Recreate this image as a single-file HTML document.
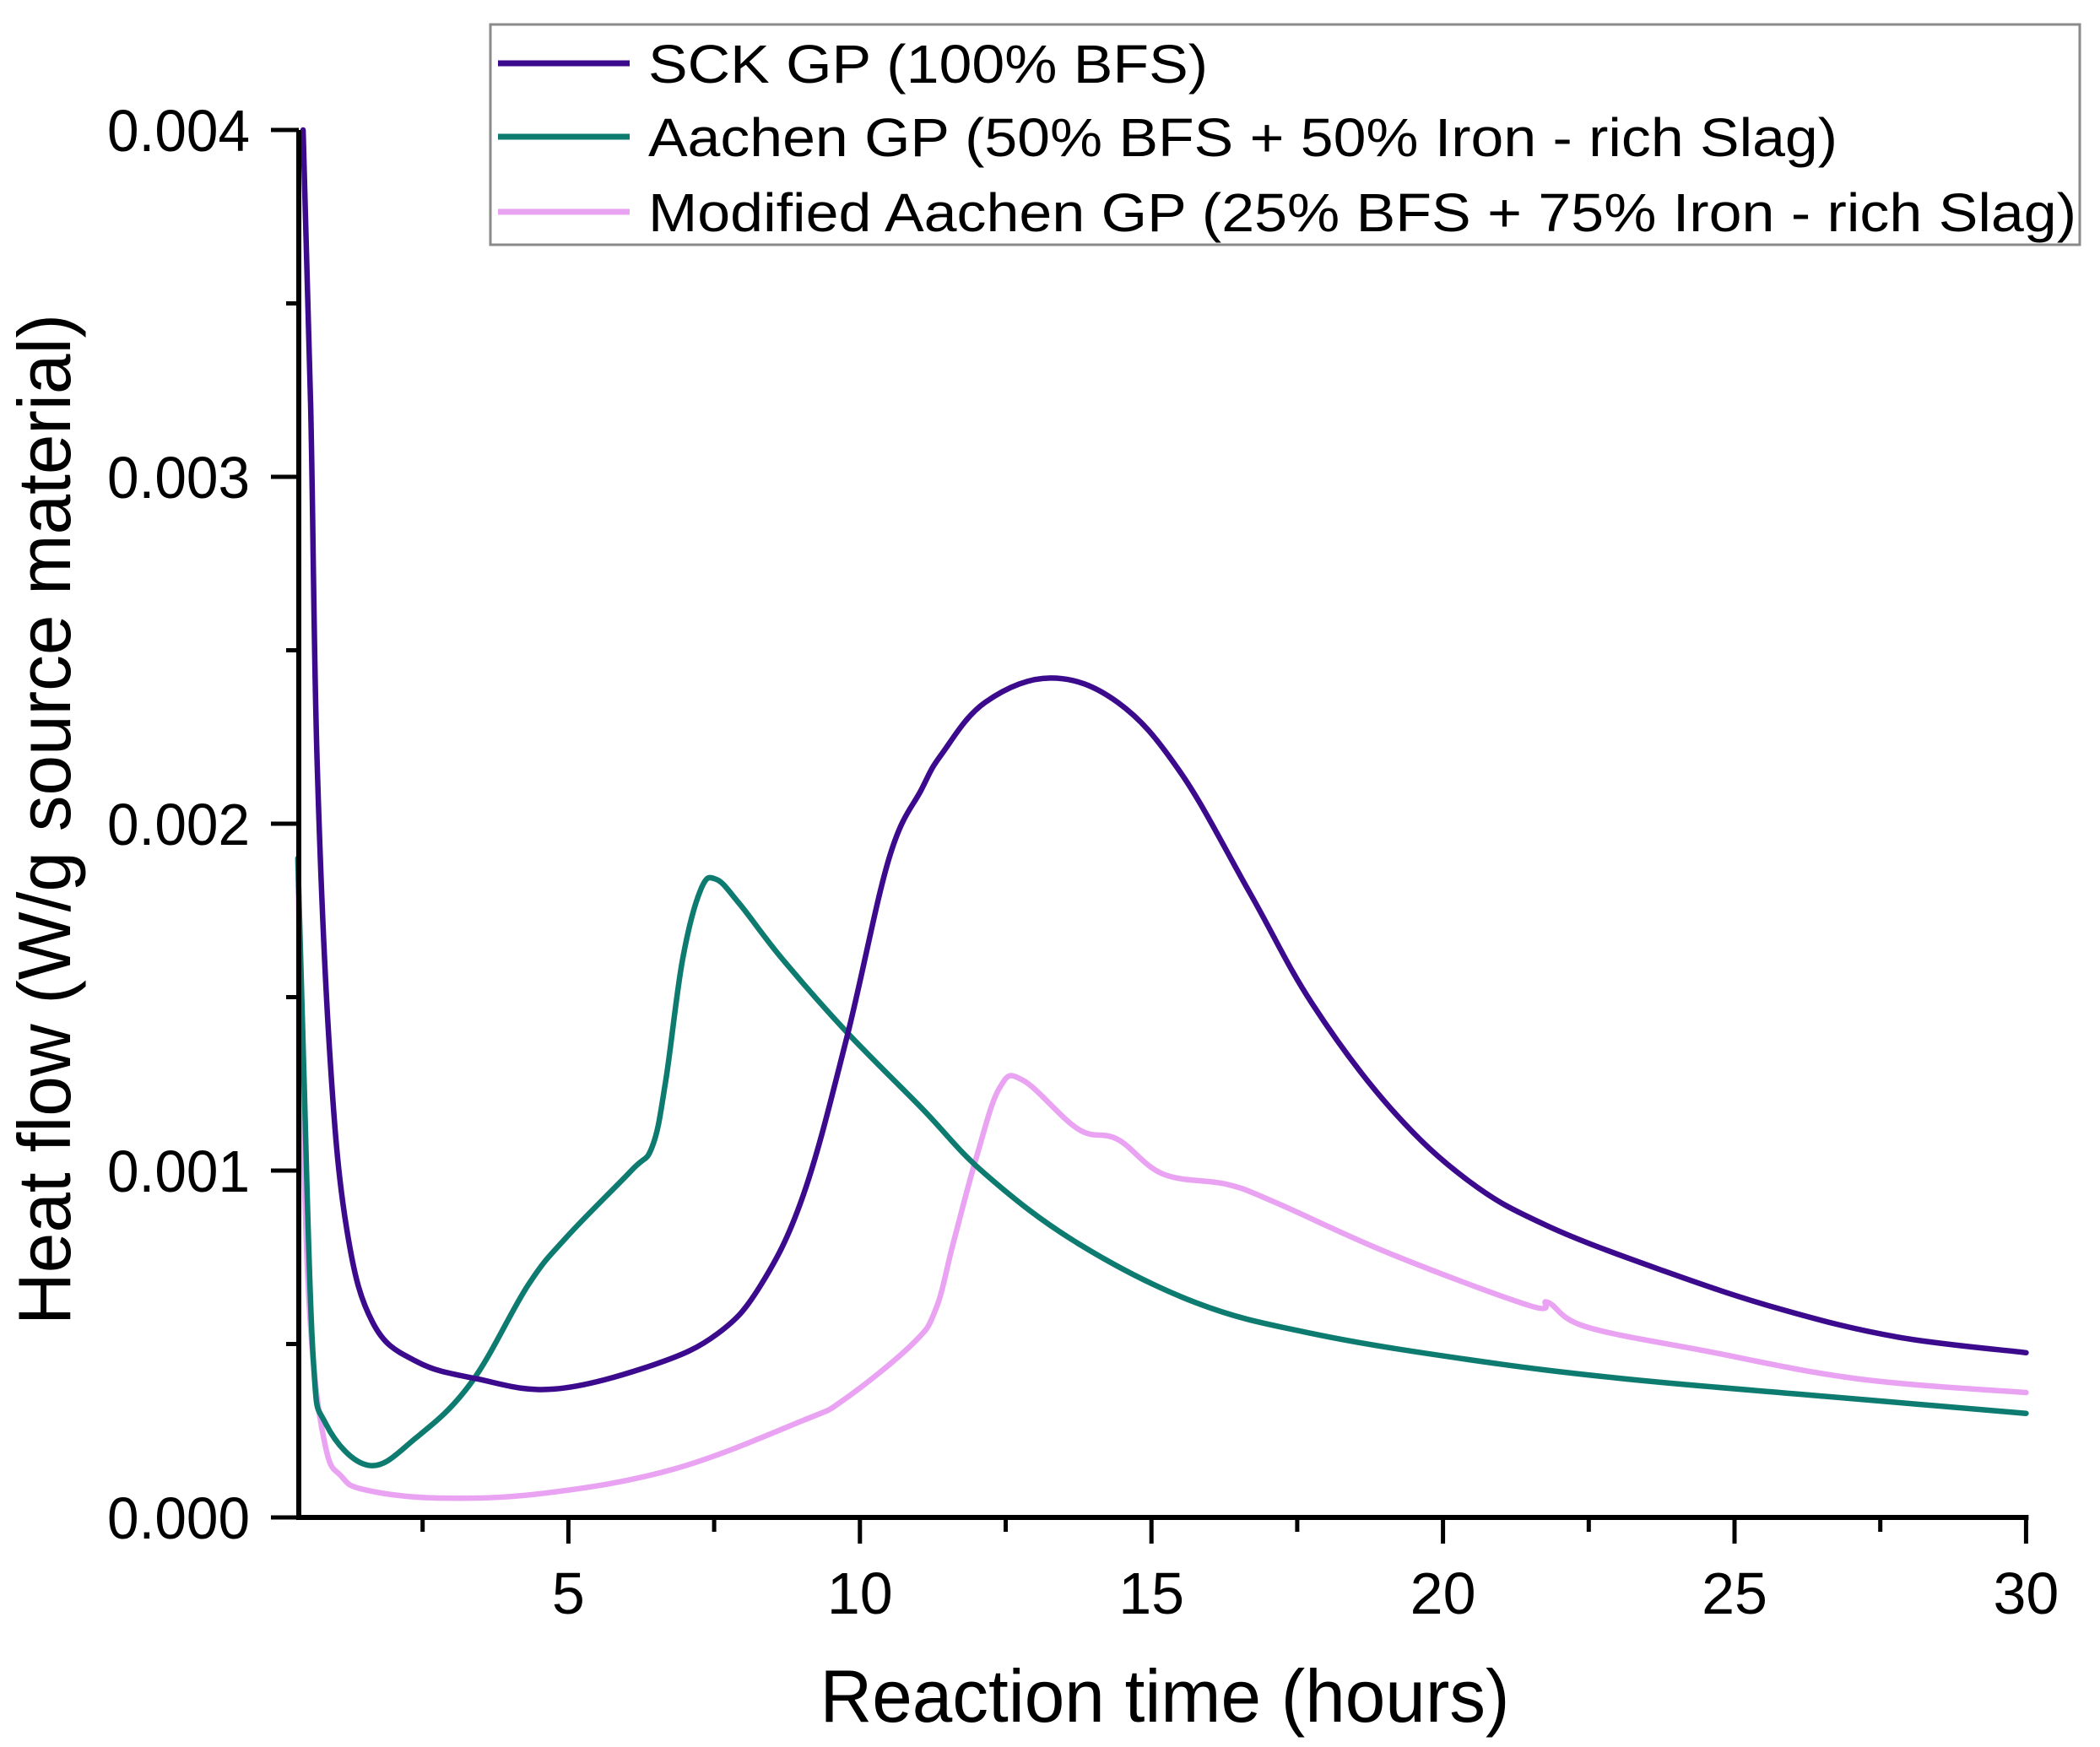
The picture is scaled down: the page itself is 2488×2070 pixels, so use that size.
<!DOCTYPE html>
<html><head><meta charset="utf-8"><style>
html,body{margin:0;padding:0;background:#fff;}
svg{display:block;font-family:"Liberation Sans",Arial,sans-serif;}
</style></head><body>
<svg id="chart" width="2488" height="2070" viewBox="0 0 2488 2070">
<g id="marks"></g>
<g id="axes"></g>
<text x="1380" y="2040" font-size="88" text-anchor="middle" textLength="817" lengthAdjust="spacingAndGlyphs">Reaction time (hours)</text>
<text transform="translate(83,971) rotate(-90)" font-size="88" text-anchor="middle" textLength="1198" lengthAdjust="spacingAndGlyphs">Heat flow (W/g source material)</text>
<g>
<rect x="581" y="29" width="1883" height="261" fill="#fff" stroke="#8a8a8a" stroke-width="3"/>
<line x1="590" y1="75" x2="746" y2="75" stroke="#3c0a8c" stroke-width="7"/>
<text x="768" y="98" font-size="64" textLength="663" lengthAdjust="spacingAndGlyphs">SCK GP (100% BFS)</text>
<line x1="590" y1="162" x2="746" y2="162" stroke="#0e7b70" stroke-width="7"/>
<text x="768" y="185" font-size="64" textLength="1409" lengthAdjust="spacingAndGlyphs">Aachen GP (50% BFS + 50% Iron - rich Slag)</text>
<line x1="590" y1="251" x2="746" y2="251" stroke="#e9a3f2" stroke-width="7"/>
<text x="768" y="274" font-size="64" textLength="1692" lengthAdjust="spacingAndGlyphs">Modified Aachen GP (25% BFS + 75% Iron - rich Slag)</text>
</g>
</svg>
<script>
// values in units of 0.001 W/g; time in hours
const sckT = [0.45,0.58,0.69,0.91,1.2,1.65,2.39,3.42,4.75,6.46,7.56,8.3,9.03,9.77,10.5,11.06,11.4,12.15,13.27,14.42,15.49,16.69,17.76,19.1,20.44,21.8,23.8,25.8,27.8,30];
const sckV = [4.0,3.2,2.18,1.33,0.83,0.56,0.45,0.40,0.37,0.44,0.53,0.67,0.93,1.38,1.9,2.10,2.2,2.35,2.42,2.35,2.15,1.80,1.48,1.18,0.97,0.84,0.71,0.60,0.52,0.475];
const aachenT = [0.36,0.46,0.62,0.84,1.58,2.39,3.34,4.31,4.98,6.08,6.44,6.67,6.96,7.27,7.53,7.93,8.67,9.77,11.06,12.15,13.74,15.75,17.76,20.44,23.1,26.5,30];
const aachenV = [1.9,1.3,0.47,0.27,0.15,0.23,0.39,0.67,0.81,1.0,1.07,1.26,1.61,1.81,1.84,1.77,1.61,1.40,1.18,0.99,0.79,0.62,0.53,0.455,0.40,0.35,0.30];
const modT = [0.36,0.46,0.6,0.84,1.1,1.5,2.76,4.6,6.82,9.03,9.73,10.9,11.3,11.6,12.0,12.4,12.8,13.74,14.42,15.2,16.3,17.1,19.1,21.5,21.8,22.45,24.5,27.1,30];
const modV = [1.9,1.04,0.5,0.2,0.12,0.08,0.056,0.07,0.14,0.28,0.34,0.5,0.6,0.79,1.04,1.24,1.26,1.12,1.09,0.99,0.96,0.91,0.76,0.61,0.62,0.55,0.48,0.40,0.36];
const xTicks = [5,10,15,20,25,30];
const xTickLabels = ["5","10","15","20","25","30"];
const yTicks = [0,1,2,3,4];
const yTickLabels = ["0.000","0.001","0.002","0.003","0.004"];

const NS = "http://www.w3.org/2000/svg";
const X0 = 328, XS = 69.08, Y0 = 1798, YS = 411;
const xs = t => X0 + t * XS;
const ys = v => Y0 - v * YS;
const marks = document.getElementById('marks');
const axes = document.getElementById('axes');
function mk(tag, attrs, parent){ const e = document.createElementNS(NS, tag); for (const k in attrs) e.setAttribute(k, attrs[k]); parent.appendChild(e); return e; }

function smoothPath(T, V){
  const P = T.map((t,i)=>[xs(t), ys(V[i])]);
  let d = 'M' + P[0][0].toFixed(1) + ',' + P[0][1].toFixed(1);
  const k = 0.18;
  for (let i = 0; i < P.length - 1; i++) {
    const p0 = P[Math.max(0,i-1)], p1 = P[i], p2 = P[i+1], p3 = P[Math.min(P.length-1,i+2)];
    const c1 = [p1[0] + (p2[0]-p0[0])*k, p1[1] + (p2[1]-p0[1])*k];
    const c2 = [p2[0] - (p3[0]-p1[0])*k, p2[1] - (p3[1]-p1[1])*k];
    d += 'C' + c1.map(v=>v.toFixed(1)).join(',') + ' ' + c2.map(v=>v.toFixed(1)).join(',') + ' ' + p2[0].toFixed(1) + ',' + p2[1].toFixed(1);
  }
  return d;
}
function series(T, V, color, name){
  const p = mk('path', {d:smoothPath(T,V), fill:'none', stroke:color, 'stroke-width':6.5, 'stroke-linejoin':'round', 'stroke-linecap':'round'}, marks);
  
  
}
series(modT, modV, '#e9a3f2', 'series-modified-aachen-gp');
series(aachenT, aachenV, '#0e7b70', 'series-aachen-gp');
series(sckT, sckV, '#3c0a8c', 'series-sck-gp');

const xAxisLine = mk('line', {x1:352, y1:Y0, x2:xs(30)+3, y2:Y0, stroke:'#000', 'stroke-width':6}, axes);


const yAxisLine = mk('line', {x1:354, y1:ys(4), x2:354, y2:Y0+3, stroke:'#000', 'stroke-width':6}, axes);



for (let t = 2.5; t <= 30.01; t += 2.5) {
  const major = Math.abs(t % 5) < 0.01;
  const tk = mk('line', {x1:xs(t), y1:Y0, x2:xs(t), y2:Y0 + (major ? 31 : 17), stroke:'#000', 'stroke-width':5}, axes);
  
  
}
xTicks.forEach((t,i)=>{
  const tx = mk('text', {x:xs(t), y:1912, 'font-size':70, 'text-anchor':'middle'}, axes);
  tx.textContent = xTickLabels[i];
  
  
});
for (let v = 0; v <= 4.001; v += 0.5) {
  const major = Math.abs(v % 1) < 0.01;
  const tk = mk('line', {x1:354, y1:ys(v), x2:354 - (major ? 33 : 15), y2:ys(v), stroke:'#000', 'stroke-width':5}, axes);
  
  
}
yTicks.forEach((v,i)=>{
  const tx = mk('text', {x:296, y:ys(v) + 25, 'font-size':70, 'text-anchor':'end', textLength:169, lengthAdjust:'spacingAndGlyphs'}, axes);
  tx.textContent = yTickLabels[i];
  
  
});
</script>
</body></html>
